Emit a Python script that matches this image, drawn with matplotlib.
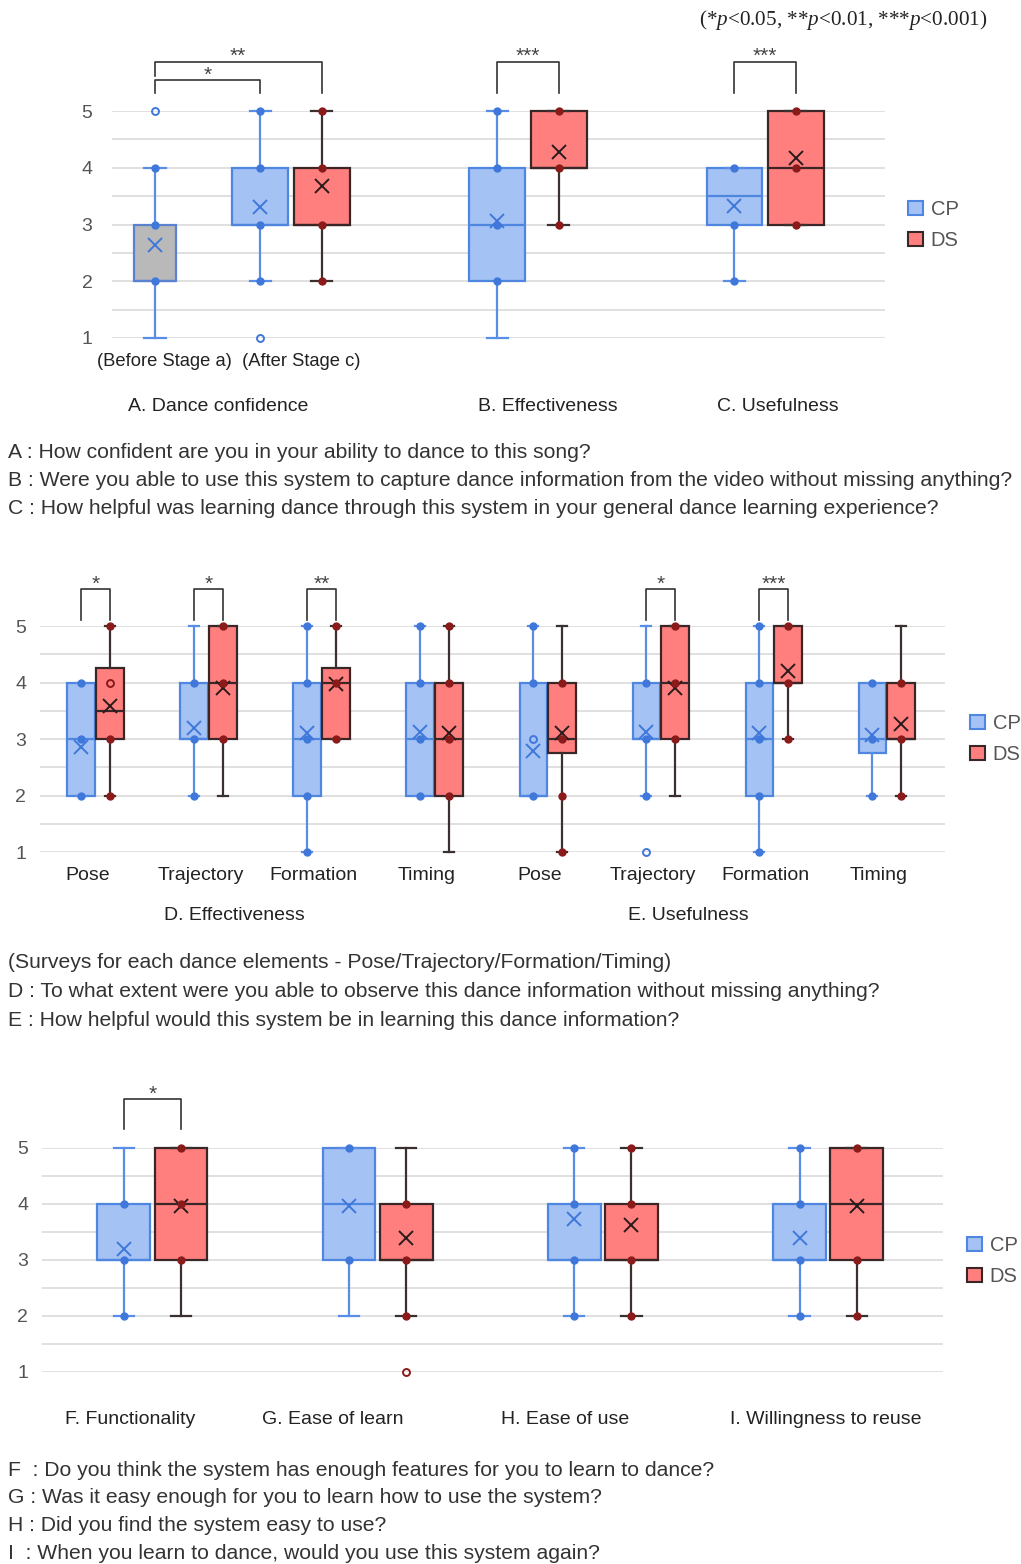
import matplotlib
matplotlib.use("Agg")
import matplotlib.pyplot as plt
from matplotlib.patches import Patch

# ---------------- DATA ----------------
# Panel 1: A. Dance confidence / B. Effectiveness / C. Usefulness
top_categories = ["A. Dance confidence", "B. Effectiveness", "C. Usefulness"]
top_sublabels = ["(Before Stage a)", "(After Stage c)"]

before_lo, before_q1, before_med, before_q3, before_hi = 1, 2, 2, 3, 4
before_mean = 2.63
before_dots = [2, 3, 4]
before_open = [5]

top_cp_lo = [2, 1, 2]
top_cp_q1 = [3, 2, 3]
top_cp_med = [3, 3, 3.5]
top_cp_q3 = [4, 4, 4]
top_cp_hi = [5, 5, 4]
top_cp_mean = [3.30, 3.07, 3.33]
top_cp_dots = [[2, 3, 4, 5], [2, 3, 4, 5], [2, 3, 4]]
top_cp_open = [[1], [], []]

top_ds_lo = [2, 3, 3]
top_ds_q1 = [3, 4, 3]
top_ds_med = [3, 4, 4]
top_ds_q3 = [4, 5, 5]
top_ds_hi = [5, 5, 5]
top_ds_mean = [3.67, 4.27, 4.17]
top_ds_dots = [[2, 3, 4, 5], [3, 4, 5], [3, 4, 5]]
top_ds_open = [[], [], []]

# Panel 2: D. Effectiveness / E. Usefulness per dance element
mid_elements = ["Pose", "Trajectory", "Formation", "Timing",
                "Pose", "Trajectory", "Formation", "Timing"]
mid_groups = ["D. Effectiveness", "E. Usefulness"]

mid_cp_lo = [2, 2, 1, 2, 2, 2, 1, 2]
mid_cp_q1 = [2, 3, 2, 2, 2, 3, 2, 2.75]
mid_cp_med = [3, 3, 3, 3, 2, 3, 3, 3]
mid_cp_q3 = [4, 4, 4, 4, 4, 4, 4, 4]
mid_cp_hi = [4, 5, 5, 5, 5, 5, 5, 4]
mid_cp_mean = [2.85, 3.19, 3.10, 3.12, 2.79, 3.12, 3.10, 3.07]
mid_cp_dots = [[2, 3, 4], [2, 3, 4], [1, 2, 3, 4, 5], [2, 3, 4, 5],
               [2, 4, 5], [2, 3, 4], [1, 2, 3, 4, 5], [2, 3, 4]]
mid_cp_open = [[], [], [], [], [3], [1], [], []]

mid_ds_lo = [2, 2, 3, 1, 1, 2, 3, 2]
mid_ds_q1 = [3, 3, 3, 2, 2.75, 3, 4, 3]
mid_ds_med = [3.5, 4, 4, 3, 3, 4, 4, 3]
mid_ds_q3 = [4.25, 5, 4.25, 4, 4, 5, 5, 4]
mid_ds_hi = [5, 5, 5, 5, 5, 5, 5, 5]
mid_ds_mean = [3.58, 3.90, 3.97, 3.10, 3.10, 3.90, 4.20, 3.27]
mid_ds_dots = [[2, 3, 5], [3, 4, 5], [3, 4, 5], [2, 3, 4, 5],
               [1, 2, 3, 4], [3, 4, 5], [3, 4, 5], [2, 3, 4]]
mid_ds_open = [[4], [], [], [], [], [], [], []]

# Panel 3: F–I
bot_categories = ["F. Functionality", "G. Ease of learn", "H. Ease of use", "I. Willingness to reuse"]
bot_cp_lo = [2, 2, 2, 2]
bot_cp_q1 = [3, 3, 3, 3]
bot_cp_med = [3, 4, 3, 3]
bot_cp_q3 = [4, 5, 4, 4]
bot_cp_hi = [5, 5, 5, 5]
bot_cp_mean = [3.20, 3.97, 3.73, 3.39]
bot_cp_dots = [[2, 3, 4], [3, 5], [2, 3, 4, 5], [2, 3, 4, 5]]
bot_cp_open = [[], [], [], []]

bot_ds_lo = [2, 2, 2, 2]
bot_ds_q1 = [3, 3, 3, 3]
bot_ds_med = [4, 3, 3, 4]
bot_ds_q3 = [5, 4, 4, 5]
bot_ds_hi = [5, 5, 5, 5]
bot_ds_mean = [3.97, 3.40, 3.63, 3.97]
bot_ds_dots = [[3, 4, 5], [2, 3, 4], [2, 3, 4, 5], [2, 3, 5]]
bot_ds_open = [[], [1], [], []]

# significance annotations: (group index, label)
top_sig = [(1, "***"), (2, "***")]
mid_sig = [(0, "*"), (1, "*"), (2, "**"), (5, "*"), (6, "***")]
bot_sig = [(0, "*")]

pvalue_note = "(*$p$<0.05, **$p$<0.01, ***$p$<0.001)"

q_top = ["A : How confident are you in your ability to dance to this song?",
         "B : Were you able to use this system to capture dance information from the video without missing anything?",
         "C : How helpful was learning dance through this system in your general dance learning experience?"]
q_mid = ["(Surveys for each dance elements - Pose/Trajectory/Formation/Timing)",
         "D : To what extent were you able to observe this dance information without missing anything?",
         "E : How helpful would this system be in learning this dance information?"]
q_bot = ["F  : Do you think the system has enough features for you to learn to dance?",
         "G : Was it easy enough for you to learn how to use the system?",
         "H : Did you find the system easy to use?",
         "I  : When you learn to dance, would you use this system again?"]

series_names = ["CP", "DS"]

# ---------------- STYLE ----------------
W, H = 1021, 1564
plt.rcParams['font.family'] = ['Liberation Sans', 'DejaVu Sans']
plt.rcParams['mathtext.fontset'] = 'custom'
plt.rcParams['mathtext.it'] = 'Liberation Serif:italic'
plt.rcParams['mathtext.rm'] = 'Liberation Serif'

CP = dict(face='#a4c2f4', edge='#4f86e0', whisk='#5a8ee6', dot='#3f78da', mean='#3f78da')
DS = dict(face='#ff7f7f', edge='#3a2626', whisk='#3a3030', dot='#8b1a1a', mean='#2b1a1a')
GR = dict(face='#b9b9b9', edge='#5a82cf', whisk='#5a8ee6', dot='#3f78da', mean='#3f78da')
GRID = '#dadada'
TICKC = '#555555'
TXTC = '#333333'
QFS = 15.2
LFS = 14

fig = plt.figure(figsize=(W / 100, H / 100), dpi=100)


def pxrect(x0, y0, x1, y1):
    return [x0 / W, 1 - y1 / H, (x1 - x0) / W, (y1 - y0) / H]


def setup_axes(rect, xlim, tickpad):
    ax = fig.add_axes(pxrect(*rect))
    ax.set_xlim(*xlim)
    ax.set_ylim(1, 5)
    ax.set_yticks([1, 2, 3, 4, 5])
    ax.set_yticks([1.5, 2.5, 3.5, 4.5], minor=True)
    ax.grid(True, axis='y', which='both', color=GRID, lw=1.2)
    ax.set_axisbelow(True)
    for s in ax.spines.values():
        s.set_visible(False)
    ax.tick_params(axis='y', which='both', length=0, pad=tickpad, labelsize=14, labelcolor=TICKC)
    ax.tick_params(axis='x', length=0)
    ax.set_xticks([])
    return ax


def draw_box(ax, x, lo, q1, med, q3, hi, mean, dots, opens, sty, width, capw):
    stats = [dict(whislo=lo, q1=q1, med=med, q3=q3, whishi=hi, mean=mean, fliers=[])]
    res = ax.bxp(stats, positions=[x], widths=width, capwidths=capw, patch_artist=True,
                 showmeans=True, showfliers=False, manage_ticks=False,
                 boxprops=dict(facecolor=sty['face'], edgecolor=sty['edge'], linewidth=1.6),
                 whiskerprops=dict(color=sty['whisk'], linewidth=1.6),
                 capprops=dict(color=sty['whisk'], linewidth=1.6),
                 medianprops=dict(color=sty['edge'], linewidth=1.6),
                 meanprops=dict(marker='x', markeredgecolor=sty['mean'], markersize=10,
                                markeredgewidth=1.4, linestyle='none'))
    for k, arts in res.items():
        for a in arts:
            a.set_clip_on(False)
    if dots:
        ax.plot([x] * len(dots), dots, 'o', ms=5, color=sty['dot'], mec=sty['dot'], clip_on=False, zorder=4)
    if opens:
        ax.plot([x] * len(opens), opens, 'o', ms=5, mfc='none', mec=sty['dot'], mew=1.4, clip_on=False, zorder=4)


def bracket(ax, x0, x1, ytop, ybot_l, ybot_r, label, fs=15):
    ax.plot([x0, x0, x1, x1], [ybot_l, ytop, ytop, ybot_r], color='#333333', lw=1.2, clip_on=False)
    ax.text((x0 + x1) / 2, ytop - 0.01, label, ha='center', va='baseline', fontsize=fs,
            color='#444444', clip_on=False)


def legend_at(x, y):
    handles = [Patch(facecolor=CP['face'], edgecolor=CP['edge'], lw=1.5, label=series_names[0]),
               Patch(facecolor=DS['face'], edgecolor=DS['edge'], lw=1.5, label=series_names[1])]
    leg = fig.legend(handles=handles, loc='center left', bbox_to_anchor=(x / W, 1 - y / H),
                     frameon=False, fontsize=14.5, handlelength=0.72, handleheight=0.72,
                     handletextpad=0.4, labelspacing=0.62, borderpad=0, borderaxespad=0)
    for t in leg.get_texts():
        t.set_color('#555555')


# ---------------- PANEL 1 ----------------
off, bw, cw = 0.129, 0.236, 0.09
ax1 = setup_axes((112, 111, 885, 338), (-0.755, 2.506), 14)
draw_box(ax1, -0.574, before_lo, before_q1, before_med, before_q3, before_hi, before_mean,
         before_dots, before_open, GR, bw * 0.74, cw)
for i in range(3):
    draw_box(ax1, i - off, top_cp_lo[i], top_cp_q1[i], top_cp_med[i], top_cp_q3[i], top_cp_hi[i],
             top_cp_mean[i], top_cp_dots[i], top_cp_open[i], CP, bw, cw)
    draw_box(ax1, i + off, top_ds_lo[i], top_ds_q1[i], top_ds_med[i], top_ds_q3[i], top_ds_hi[i],
             top_ds_mean[i], top_ds_dots[i], top_ds_open[i], DS, bw, cw)
bracket(ax1, -0.574, -off, 5.55, 5.32, 5.32, "*")
bracket(ax1, -0.574, off, 5.87, 5.62, 5.32, "**")
for g, lab in top_sig:
    bracket(ax1, g - off, g + off, 5.87, 5.32, 5.32, lab)

fig.text(988 / W, 1 - 20 / H, pvalue_note, ha='right', va='center', fontsize=15.2,
         family='Liberation Serif', color='#222222')
fig.text(97 / W, 1 - 362 / H, top_sublabels[0] + "  " + top_sublabels[1], ha='left', va='center',
         fontsize=13.2, color='#222222')
for lab, xc in zip(top_categories, [218, 548, 778]):
    fig.text(xc / W, 1 - 406 / H, lab, ha='center', va='center', fontsize=LFS, color='#222222')
for k, q in enumerate(q_top):
    fig.text(8 / W, 1 - (452 + 28.5 * k) / H, q, ha='left', va='center', fontsize=QFS, color=TXTC)
legend_at(908, 225)

# ---------------- PANEL 2 ----------------
off2, bw2, cw2 = 0.128, 0.24, 0.09
ax2 = setup_axes((40, 626, 945, 852), (-0.491, 7.517), 10)
for i in range(8):
    draw_box(ax2, i - off2, mid_cp_lo[i], mid_cp_q1[i], mid_cp_med[i], mid_cp_q3[i], mid_cp_hi[i],
             mid_cp_mean[i], mid_cp_dots[i], mid_cp_open[i], CP, bw2, cw2)
    draw_box(ax2, i + off2, mid_ds_lo[i], mid_ds_q1[i], mid_ds_med[i], mid_ds_q3[i], mid_ds_hi[i],
             mid_ds_mean[i], mid_ds_dots[i], mid_ds_open[i], DS, bw2, cw2)
for g, lab in mid_sig:
    bracket(ax2, g - off2, g + off2, 5.65, 5.11, 5.11, lab)
ax2.set_xticks([i - 0.07 for i in range(8)])
ax2.set_xticklabels(mid_elements, fontsize=LFS, color='#222222')
ax2.tick_params(axis='x', pad=11)
for lab, xc in zip(mid_groups, [234, 688]):
    fig.text(xc / W, 1 - 916 / H, lab, ha='center', va='center', fontsize=LFS, color='#222222')
for k, q in enumerate(q_mid):
    fig.text(8 / W, 1 - (963 + 28.5 * k) / H, q, ha='left', va='center', fontsize=QFS, color=TXTC)
legend_at(970, 739)

# ---------------- PANEL 3 ----------------
off3, bw3, cw3 = 0.127, 0.235, 0.09
ax3 = setup_axes((42, 1148, 943, 1372), (-0.49, 3.51), 10)
for i in range(4):
    draw_box(ax3, i - off3, bot_cp_lo[i], bot_cp_q1[i], bot_cp_med[i], bot_cp_q3[i], bot_cp_hi[i],
             bot_cp_mean[i], bot_cp_dots[i], bot_cp_open[i], CP, bw3, cw3)
    draw_box(ax3, i + off3, bot_ds_lo[i], bot_ds_q1[i], bot_ds_med[i], bot_ds_q3[i], bot_ds_hi[i],
             bot_ds_mean[i], bot_ds_dots[i], bot_ds_open[i], DS, bw3, cw3)
for g, lab in bot_sig:
    bracket(ax3, g - off3, g + off3, 5.875, 5.34, 5.34, lab)
for lab, xc in zip(bot_categories, [130, 333, 565, 826]):
    fig.text(xc / W, 1 - 1420 / H, lab, ha='center', va='center', fontsize=LFS, color='#222222')
for k, q in enumerate(q_bot):
    fig.text(8 / W, 1 - (1470 + 27.7 * k) / H, q, ha='left', va='center', fontsize=QFS, color=TXTC)
legend_at(967, 1261)

fig.savefig("out.png", dpi=100, facecolor='white')
